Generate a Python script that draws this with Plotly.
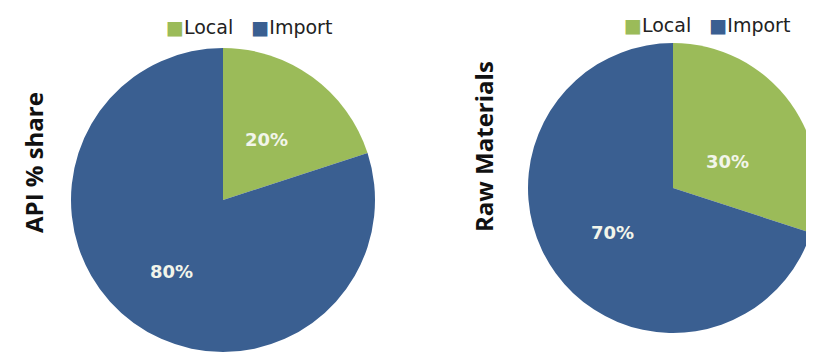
import math
import plotly.graph_objects as go

labels = ["Local", "Import"]
api_share = [20, 80]
raw_materials = [30, 70]
colors = ["#9BBB59", "#3A5F91"]
titles = ["API % share", "Raw Materials"]

# figure size (page has a default 8px body margin)
W, H = 814, 345

def dom(cx, cy, r):
    return dict(x=[(cx - r) / W, (cx + r) / W], y=[1 - (cy + r) / H, 1 - (cy - r) / H])

# label placement style: radial fraction and angular nudge (deg) per slice
pies = [
    dict(values=api_share, cx=215, cy=192, r=152, legend_xy=(241, 19), title_xy=(25, 155),
         lab_frac=[0.49, 0.58], lab_rot=[0, 0]),
    dict(values=raw_materials, cx=665, cy=180, r=145, legend_xy=(699, 17), title_xy=(475, 139),
         lab_frac=[0.42, 0.52], lab_rot=[10, 0]),
]

fig = go.Figure()
annotations = []
for i, p in enumerate(pies):
    fig.add_trace(go.Pie(
        labels=labels, values=p["values"], sort=False, direction="clockwise", rotation=0,
        marker=dict(colors=colors, line=dict(width=0)), textinfo="none",
        domain=dom(p["cx"], p["cy"], p["r"]), showlegend=False, hoverinfo="label+percent",
    ))
    total = sum(p["values"])
    cum = 0
    for j, v in enumerate(p["values"]):
        mid = math.radians((cum + v / 2) / total * 360 + p["lab_rot"][j])
        cum += v
        rr = p["lab_frac"][j] * p["r"]
        x = p["cx"] + rr * math.sin(mid)
        y = p["cy"] - rr * math.cos(mid)
        annotations.append(dict(
            text=f"<b>{round(v / total * 100)}%</b>", x=x / W, y=1 - y / H, xref="paper", yref="paper",
            showarrow=False, xanchor="center", yanchor="middle",
            font=dict(family="DejaVu Sans", size=18, color="#F2F5EA")))
    leg = "&nbsp;&nbsp;&nbsp;".join(
        f"<span style='color:{c}'>■</span>{lab}" for lab, c in zip(labels, colors))
    lx, ly = p["legend_xy"]
    annotations.append(dict(text=leg, x=lx / W, y=1 - ly / H, xref="paper", yref="paper",
                            showarrow=False, xanchor="center", yanchor="middle",
                            font=dict(family="DejaVu Sans", size=19, color="#222222")))
    tx, ty = p["title_xy"]
    annotations.append(dict(text=f"<b>{titles[i]}</b>", x=tx / W, y=1 - ty / H, xref="paper", yref="paper",
                            showarrow=False, textangle=-90, xanchor="center", yanchor="middle",
                            font=dict(family="Open Sans", size=24, color="#111111")))

fig.update_layout(
    width=W, height=H, margin=dict(l=0, r=0, t=0, b=0),
    paper_bgcolor="white", plot_bgcolor="white",
    annotations=annotations,
)
fig.write_html("out.html")
